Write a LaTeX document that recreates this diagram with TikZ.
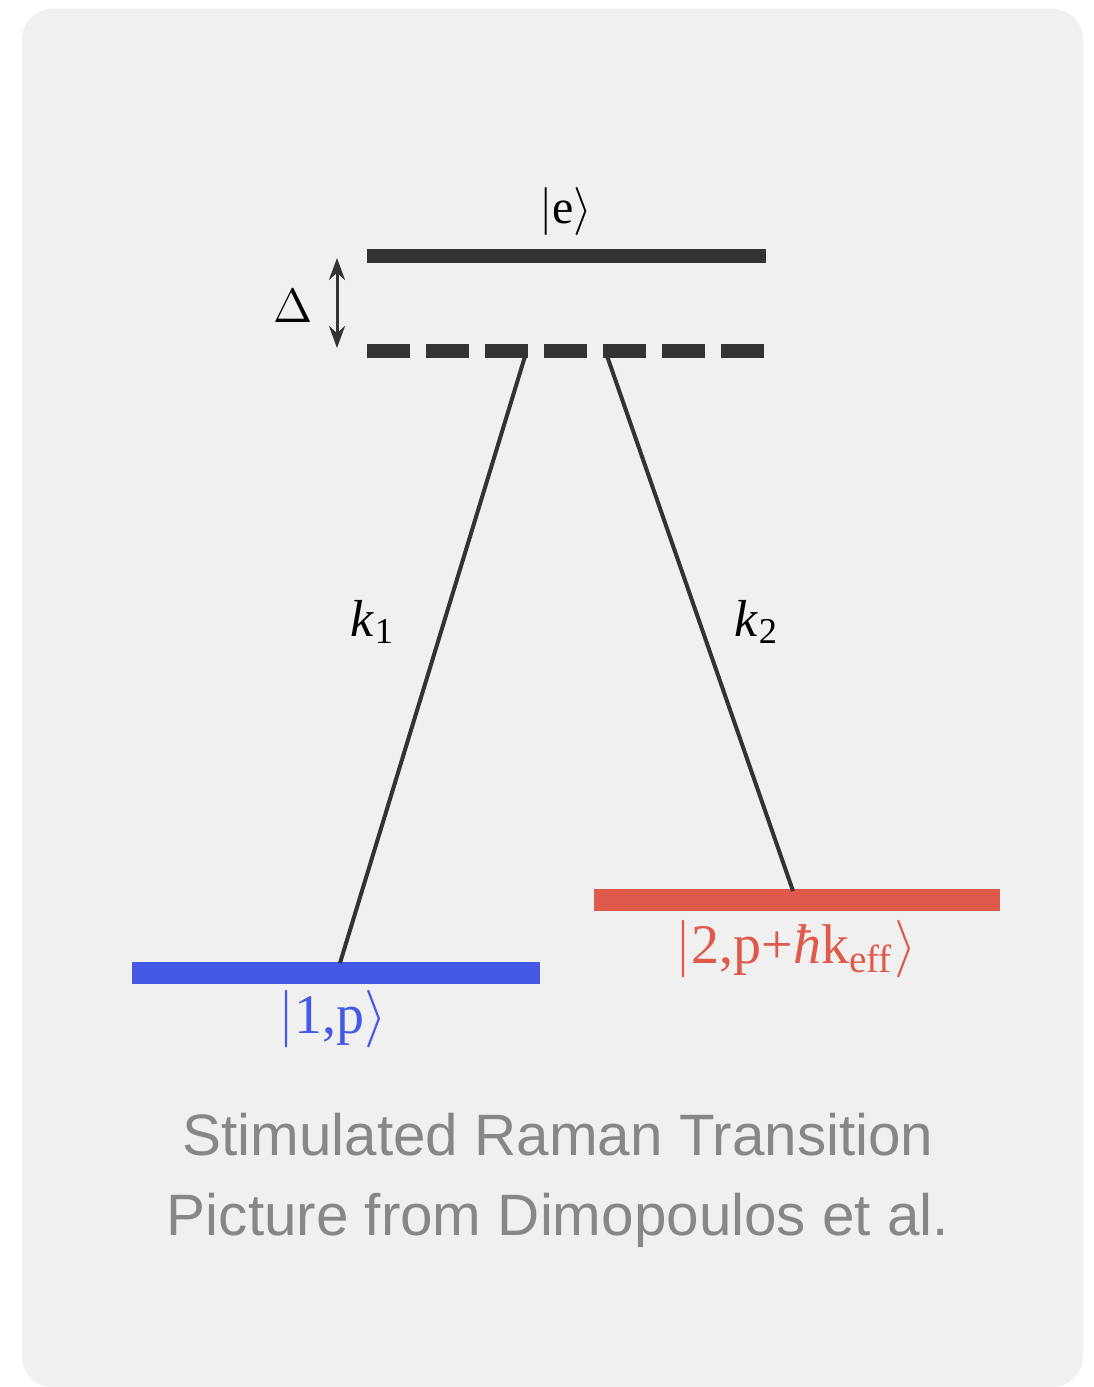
\documentclass[tikz,border=0pt]{standalone}
\usepackage{fontspec}
\setmainfont{Liberation Serif}
\newfontfamily\capfont{Liberation Sans}
\usetikzlibrary{arrows.meta}
\definecolor{cardgray}{HTML}{F0F0F0}
\definecolor{levelblk}{HTML}{333333}
\definecolor{lvlblue}{HTML}{4459E6}
\definecolor{lvlred}{HTML}{E05A4C}
\definecolor{capgray}{HTML}{878787}
\begin{document}
\begin{tikzpicture}[
  x=0.25pt, y=-0.25pt,
  font=\fontsize{12}{14}\selectfont,
  level/.style={line width=3.7pt, color=levelblk},
  virt/.style={level, dash pattern=on 10.75pt off 4pt},
  beam/.style={line width=1pt, color=levelblk},
  ground/.style={line width=5.5pt},
  lbl/.style={inner sep=1pt},
  state/.style={lbl, font=\fontsize{14}{16}\selectfont},
  caption/.style={font=\capfont\fontsize{14.6}{20}\selectfont, text=capgray, align=center}
]
\useasboundingbox (0,0) rectangle (1093,1387);
\fill[cardgray, rounded corners=7.5pt] (22,9) rectangle (1083,1387);

% levels
\coordinate (eL) at (367,256);
\coordinate (eR) at (766,256);
\coordinate (vL) at (367,351);
\coordinate (vR) at (766,351);
\draw[level] (eL) -- (eR);
\draw[virt] (vL) -- (vR);
\draw[ground, lvlblue] (132,973) -- (540,973);
\draw[ground, lvlred] (594,900) -- (1000,900);

% transitions
\coordinate (k1top) at (526,353);
\coordinate (k1bot) at (340,963);
\coordinate (k2top) at (606,353);
\coordinate (k2bot) at (793,891);
\draw[beam] (k1top) -- (k1bot);
\draw[beam] (k2top) -- (k2bot);

% detuning
\coordinate (dtop) at (337,258);
\coordinate (dbot) at (337,348);
\draw[line width=0.75pt, levelblk, {Stealth[length=5.5pt,width=4pt]}-{Stealth[length=5.5pt,width=4pt]}] (dtop) -- (dbot);
\node[lbl] (delta) at (293,306) {$\Delta$};

% labels
\node[lbl] (e) at (566,212) {$|$e$\rangle$};
\node[lbl, font=\fontsize{13}{15}\selectfont] (k1) at (373,622) {\textit{k}\textsubscript{1}};
\node[lbl, font=\fontsize{13}{15}\selectfont] (k2) at (757,622) {\textit{k}\textsubscript{2}};
\node[state, text=lvlblue] (one) at (333,1019) {$|$1,p$\rangle$};
\node[state, text=lvlred] (two) at (796,949) {$|$2,p+\textit{ħ}k\textsubscript{eff}$\rangle$};

\node[caption] (cap) at (558,1180) {Stimulated Raman Transition\\Picture from Dimopoulos et al.};
\end{tikzpicture}
\end{document}
